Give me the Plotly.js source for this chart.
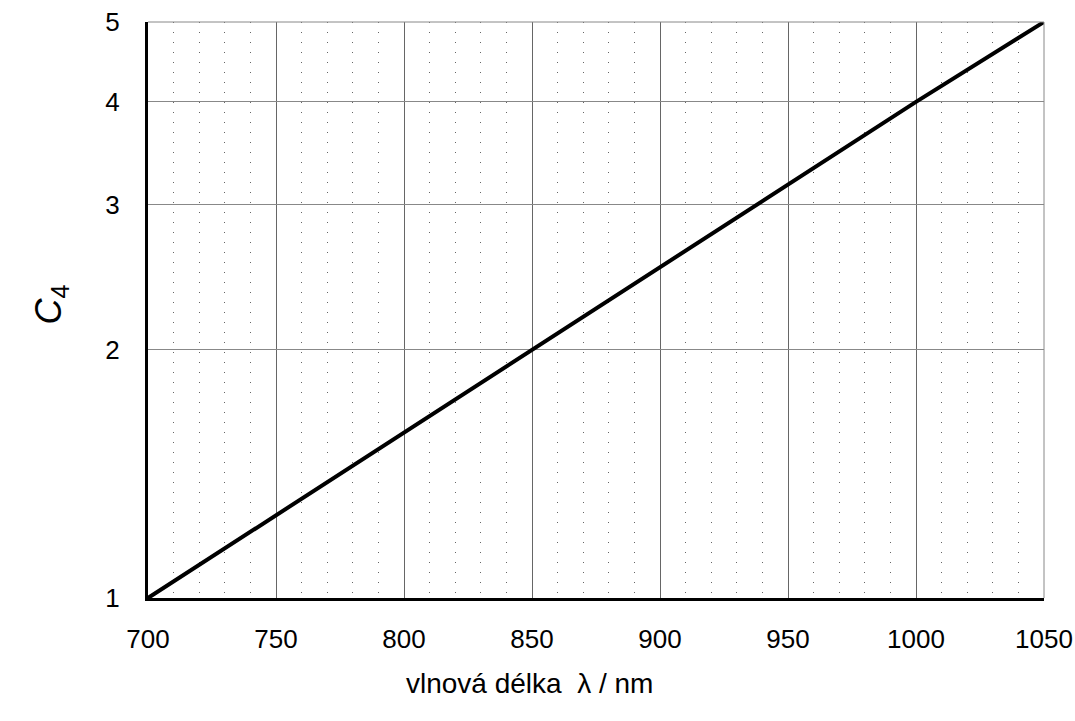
<!DOCTYPE html>
<html><head><meta charset="utf-8">
<script src="https://cdn.plot.ly/plotly-3.0.1.min.js"></script>
<style>body{margin:0;background:#fff}#c{width:1075px;height:721px}</style>
</head><body><div id="c"></div>
<script>
const wavelength = [700, 750, 800, 850, 900, 950, 1000, 1050];
const c4 = [1.0, 1.26, 1.59, 2.0, 2.52, 3.17, 4.0, 5.0];
const yTicks = [1, 2, 3, 4, 5];
const xTicks = [700, 750, 800, 850, 900, 950, 1000, 1050];
const xTitle = 'vlnová délka  λ / nm';
const yTitle = '<i>C</i><sub>4</sub>';

const trace = {x: wavelength, y: c4, mode: 'lines', line: {color: '#000', width: 4}, hoverinfo: 'skip'};
const FAM = 'Liberation Sans, Arial, sans-serif';
const tickFont = {family: FAM, color: '#000', size: 26};
const layout = {
  width: 1075, height: 721,
  margin: {l: 148, r: 31, t: 22, b: 123},
  paper_bgcolor: '#fff', plot_bgcolor: '#fff',
  showlegend: false,
  font: {family: FAM, color: '#000', size: 26},
  xaxis: {
    range: [700, 1050], tickvals: xTicks, ticktext: xTicks.map(String),
    showgrid: true, gridcolor: '#666', gridwidth: 1,
    minor: {dtick: 10, showgrid: true, gridcolor: '#666', griddash: '1px,9px', gridwidth: 1, ticks: ''},
    ticks: 'outside', ticklen: 16, tickcolor: 'rgba(0,0,0,0)',
    showline: true, linecolor: '#000', linewidth: 3, mirror: false,
    zeroline: false, tickfont: tickFont, automargin: false
  },
  yaxis: {
    type: 'log', range: [0, Math.log10(5)], tickvals: yTicks, ticktext: yTicks.map(String),
    showgrid: true, gridcolor: '#888', gridwidth: 1,
    ticks: 'outside', ticklen: 20, tickcolor: 'rgba(0,0,0,0)',
    showline: true, linecolor: '#000', linewidth: 3,
    zeroline: false, tickfont: tickFont, automargin: false
  },
  annotations: [
    {text: xTitle, xref: 'paper', yref: 'paper', x: 0.426, y: -0.148, xanchor: 'center', yanchor: 'middle',
     showarrow: false, font: {family: FAM, size: 28, color: '#000'}},
    {text: yTitle, xref: 'paper', yref: 'paper', x: -0.108, y: 0.51, xanchor: 'center', yanchor: 'middle',
     textangle: -90, showarrow: false, font: {family: FAM, size: 36, color: '#000'}}
  ],
  shapes: [
    {type: 'line', xref: 'paper', yref: 'paper', x0: 0, x1: 1, y0: 1, y1: 1, line: {color: '#888', width: 1}},
    {type: 'line', xref: 'paper', yref: 'paper', x0: 1, x1: 1, y0: 0, y1: 1, line: {color: '#888', width: 1}}
  ]
};
Plotly.newPlot('c', [trace], layout, {displayModeBar: false, staticPlot: true});
</script></body></html>
